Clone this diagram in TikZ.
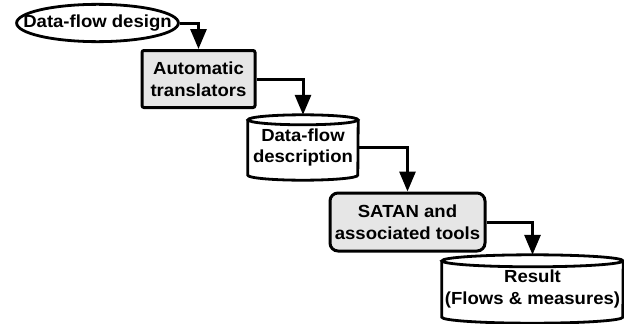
\documentclass[tikz,border=0pt]{standalone}
\usepackage{fontspec}
\setmainfont[FakeStretch=1.06]{Liberation Sans}
\usetikzlibrary{arrows.meta,calc,shapes.geometric}
\definecolor{boxgray}{HTML}{E6E6E6}
\tikzset{
  x=1pt, y=-1pt,
  every node/.style={font=\fontsize{17.5}{21.5}\selectfont\bfseries, align=center, inner sep=0pt},
  ovalnode/.style={draw, ellipse, line width=2.8pt, inner xsep=-17pt, inner ysep=5pt},
  procbox/.style={draw, fill=boxgray, line width=3pt},
  storenode/.style={draw=none},
  flow/.style={line width=3pt, -{Triangle[length=20pt,width=16pt]}},
  cylline/.style={line width=2.8pt},
}
\newcommand\drawcyl[3]{%
  \draw[cylline] ([yshift=-#3]#1.north) ellipse [x radius=#2, y radius=#3];
  \draw[cylline] ([yshift=-#3]#1.north west) -- ([yshift=#3]#1.south west)
     arc[start angle=180, end angle=360, x radius=#2, y radius=#3]
     -- ([yshift=-#3]#1.north east);
}
\begin{document}
\begin{tikzpicture}
\useasboundingbox (0,0) rectangle (624,324);
\node[ovalnode] (dfd) at (97.5,23) {Data-flow design};
\node[procbox, rounded corners=2pt, minimum width=113pt, minimum height=57pt] (at) at (198.5,79)
  {Automatic\\translators};
\node[storenode, minimum width=110pt, minimum height=65pt] (dfdesc) at (303,147.5)
  {\raisebox{-4pt}{\begin{tabular}{@{}c@{}}Data-flow\\description\end{tabular}}};
\drawcyl{dfdesc}{55pt}{5pt}
\node[procbox, rounded corners=8pt, minimum width=155pt, minimum height=58pt] (satan) at (407.5,222)
  {SATAN and\\associated tools};
\node[storenode, minimum width=181pt, minimum height=68pt] (res) at (532.5,289)
  {\raisebox{-8pt}{\begin{tabular}{@{}c@{}}Result\\(Flows \& measures)\end{tabular}}};
\drawcyl{res}{90.5pt}{6pt}
\draw[flow] (dfd.east) -| (at.north);
\draw[flow] (at.east) -| (dfdesc.north);
\draw[flow] (dfdesc.east) -| (satan.north);
\draw[flow] (satan.east) -| (res.north);
\end{tikzpicture}
\end{document}
